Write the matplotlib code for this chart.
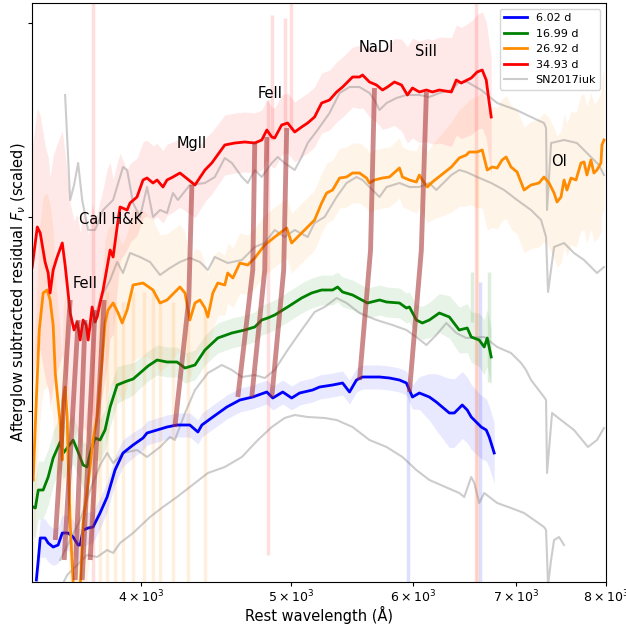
import numpy as np
import matplotlib
matplotlib.use("Agg")
import matplotlib.pyplot as plt
from matplotlib.ticker import FixedLocator, NullLocator, FixedFormatter

# ---------------- smoothed spectra (rest wavelength in Angstrom, scaled flux) -------------
wl_602 = [3422, 3432, 3442, 3467, 3483, 3509, 3535, 3557, 3588, 3615, 3642, 3653, 3669, 3697, 3724,
          3763, 3803, 3848, 3894, 3953, 4012, 4036, 4097, 4158, 4220, 4302, 4354, 4380, 4452, 4546,
          4635, 4725, 4825, 4868, 4941, 5007, 5067, 5166, 5220, 5322, 5402, 5458, 5515, 5565, 5708,
          5793, 5880, 5941, 5995, 6057, 6148, 6212, 6334, 6381, 6457, 6505, 6544, 6642, 6692, 6722, 6772]
fl_602 = [0.02, 0.22, 0.44, 0.44, 0.39, 0.35, 0.37, 0.49, 0.49, 0.45, 0.37, 0.37, 0.52, 0.54, 0.55,
          0.69, 0.85, 1.12, 1.29, 1.37, 1.44, 1.49, 1.52, 1.55, 1.57, 1.57, 1.50, 1.57, 1.65, 1.75,
          1.82, 1.85, 1.90, 1.84, 1.90, 1.84, 1.89, 1.92, 1.95, 1.97, 1.99, 1.90, 2.02, 2.05, 2.05,
          2.04, 2.02, 1.99, 1.85, 1.89, 1.85, 1.80, 1.69, 1.69, 1.77, 1.72, 1.65, 1.55, 1.52, 1.45, 1.29]

wl_1699 = [3406, 3417, 3432, 3457, 3467, 3483, 3509, 3546, 3562, 3583, 3615, 3642, 3669, 3691, 3708,
           3735, 3763, 3791, 3820, 3860, 3918, 3953, 3994, 4042, 4097, 4158, 4220, 4271, 4335, 4400,
           4485, 4580, 4669, 4739, 4789, 4832, 4882, 4977, 5082, 5158, 5236, 5322, 5362, 5402, 5483,
           5606, 5708, 5768, 5880, 5941, 5968, 6030, 6084, 6148, 6240, 6334, 6428, 6505, 6544, 6622,
           6672, 6702, 6742]
fl_1699 = [0.75, 0.74, 0.92, 0.92, 0.97, 1.05, 1.24, 1.40, 1.29, 1.34, 1.42, 1.30, 1.17, 1.15, 1.29,
           1.44, 1.42, 1.52, 1.75, 1.97, 2.01, 2.03, 2.09, 2.16, 2.22, 2.20, 2.20, 2.14, 2.17, 2.32,
           2.44, 2.49, 2.52, 2.55, 2.62, 2.64, 2.67, 2.75, 2.84, 2.89, 2.92, 2.92, 2.95, 2.90, 2.87,
           2.79, 2.82, 2.80, 2.79, 2.74, 2.75, 2.62, 2.59, 2.62, 2.69, 2.65, 2.52, 2.54, 2.45, 2.42,
           2.35, 2.44, 2.25]

wl_2692 = [3406, 3422, 3437, 3457, 3478, 3493, 3509, 3520, 3530, 3546, 3557, 3562, 3572, 3583, 3588,
           3599, 3615, 3631, 3653, 3669, 3697, 3724, 3747, 3763, 3774, 3791, 3808, 3837, 3866, 3889,
           3918, 3953, 4012, 4072, 4115, 4158, 4220, 4239, 4271, 4302, 4335, 4367, 4400, 4419, 4452,
           4485, 4532, 4552, 4587, 4635, 4690, 4739, 4810, 4882, 4970, 5007, 5082, 5181, 5236, 5275,
           5322, 5378, 5434, 5483, 5540, 5598, 5623, 5665, 5733, 5793, 5880, 5906, 5968, 6030, 6057,
           6084, 6130, 6176, 6353, 6428, 6496, 6525, 6602, 6652, 6702, 6752, 6802, 6852, 6893, 6944,
           7007, 7080, 7154, 7240, 7294, 7349, 7404, 7437, 7481, 7515, 7548, 7593, 7650, 7707, 7742,
           7776, 7822, 7857, 7893, 7940, 7952, 7976]
fl_2692 = [1.02, 1.82, 2.52, 2.89, 2.92, 2.82, 2.57, 2.09, 1.89, 1.59, 1.22, 1.82, 1.95, 1.65, 1.25,
           0.59, 0.00, -0.28, -0.08, 0.59, 0.99, 1.42, 1.65, 1.99, 2.19, 2.59, 2.72, 2.79, 2.69, 2.59,
           2.72, 2.97, 2.99, 2.92, 2.79, 2.82, 2.92, 2.95, 2.89, 2.62, 2.79, 2.82, 2.74, 2.65, 2.89,
           2.99, 2.97, 3.09, 3.04, 3.19, 3.17, 3.24, 3.37, 3.45, 3.54, 3.39, 3.49, 3.62, 3.79, 3.89,
           3.92, 4.04, 4.05, 4.09, 4.09, 4.04, 3.99, 4.02, 4.04, 4.05, 4.14, 4.05, 4.02, 4.00, 4.07,
           4.02, 3.95, 4.00, 4.15, 4.24, 4.27, 4.30, 4.30, 4.32, 4.12, 4.15, 4.14, 4.22, 4.25, 4.15,
           4.10, 3.92, 3.97, 3.99, 4.05, 3.99, 3.89, 3.80, 3.85, 4.02, 3.92, 4.04, 4.02, 4.19, 4.20,
           4.07, 4.22, 4.09, 4.12, 4.19, 4.37, 4.42]

wl_3493 = [3401, 3427, 3442, 3467, 3483, 3493, 3509, 3530, 3557, 3572, 3588, 3599, 3620, 3637, 3653,
           3669, 3686, 3697, 3719, 3735, 3747, 3763, 3780, 3803, 3820, 3837, 3860, 3877, 3918, 3935,
           3976, 4012, 4036, 4072, 4097, 4133, 4158, 4195, 4239, 4271, 4335, 4400, 4445, 4532, 4601,
           4669, 4739, 4789, 4825, 4861, 4882, 4933, 4977, 5030, 5082, 5128, 5181, 5236, 5298, 5354,
           5402, 5483, 5540, 5565, 5623, 5682, 5733, 5776, 5836, 5898, 5950, 5995, 6057, 6121, 6176,
           6240, 6353, 6400, 6447, 6544, 6602, 6652, 6692, 6722, 6742]
fl_3493 = [3.15, 3.55, 3.49, 3.20, 3.09, 2.89, 3.12, 3.25, 3.39, 3.17, 2.89, 2.69, 2.52, 2.60, 2.42,
           2.62, 2.57, 2.42, 2.75, 2.60, 2.65, 2.79, 2.92, 3.15, 3.32, 3.25, 3.55, 3.75, 3.72, 3.79,
           3.85, 4.02, 4.04, 3.99, 4.02, 3.95, 4.02, 4.05, 4.09, 4.05, 3.97, 4.12, 4.19, 4.37, 4.39,
           4.40, 4.39, 4.42, 4.52, 4.45, 4.44, 4.57, 4.59, 4.50, 4.55, 4.59, 4.65, 4.79, 4.82, 4.90,
           4.95, 5.05, 5.05, 5.07, 5.00, 4.97, 4.92, 4.95, 5.00, 4.97, 4.87, 4.94, 4.90, 4.92, 4.90,
           4.92, 4.90, 5.02, 4.99, 5.04, 5.10, 5.12, 5.02, 4.79, 4.65]

# ---------------- SN2017iuk comparison spectra (offset per epoch) ----------------
wl_iuk_a = [3572, 3599, 3620, 3642, 3664, 3697, 3735, 3780, 3837, 3894, 3918, 3953, 3994, 4036, 4072,
            4115, 4158, 4195, 4226, 4302, 4400, 4465, 4532, 4580, 4649, 4690, 4739, 4789, 4861, 4904,
            4955, 5030, 5082, 5128, 5204, 5259, 5298, 5378, 5458, 5540, 5623, 5665, 5708, 5768, 5854,
            5941, 6057, 6148, 6240, 6353, 6428, 6505, 6642, 6802, 7000, 7154, 7294, 7316, 7327, 7371,
            7515, 7661, 7822, 7916, 7976]
fl_iuk_a = [4.87, 3.82, 3.97, 4.19, 3.82, 3.52, 3.52, 3.72, 3.82, 4.15, 4.12, 3.79, 3.65, 3.95, 3.65,
            3.72, 3.69, 3.89, 3.82, 3.97, 3.99, 4.05, 4.24, 4.19, 4.05, 3.99, 4.12, 4.05, 4.19, 4.25,
            4.19, 4.12, 4.25, 4.39, 4.52, 4.62, 4.69, 4.89, 4.95, 4.95, 4.89, 4.82, 4.72, 4.79, 4.84,
            4.87, 4.87, 4.85, 4.89, 4.92, 5.00, 5.00, 4.92, 4.79, 4.72, 4.65, 4.59, 4.54, 3.72, 4.39,
            4.42, 4.39, 4.25, 4.17, 4.07]

wl_iuk_b = [3708, 3763, 3820, 3860, 3894, 3935, 3994, 4054, 4115, 4176, 4239, 4302, 4367, 4419, 4465,
            4552, 4649, 4739, 4810, 4882, 4955, 5030, 5128, 5181, 5259, 5354, 5434, 5515, 5565, 5648,
            5708, 5768, 5880, 5968, 6057, 6148, 6212, 6306, 6353, 6428, 6496, 6602, 6742, 6873, 7007,
            7154, 7262, 7316, 7338, 7404, 7515, 7627, 7742, 7893, 7976]
fl_iuk_b = [2.52, 2.82, 3.02, 3.20, 3.09, 3.29, 3.25, 3.20, 3.07, 3.14, 3.20, 3.24, 3.20, 3.12, 3.25,
            3.19, 3.22, 3.35, 3.39, 3.52, 3.45, 3.52, 3.45, 3.59, 3.65, 3.85, 3.99, 4.05, 4.02, 3.92,
            3.85, 3.95, 3.99, 3.95, 3.95, 3.99, 3.92, 4.02, 4.07, 4.12, 4.10, 4.05, 3.99, 3.92, 3.82,
            3.72, 3.62, 3.45, 2.90, 3.35, 3.39, 3.29, 3.22, 3.09, 3.15]

wl_iuk_c = [3546, 3599, 3653, 3708, 3763, 3803, 3837, 3894, 3976, 4036, 4115, 4176, 4207, 4271, 4335,
            4419, 4512, 4580, 4649, 4739, 4810, 4882, 4977, 5082, 5181, 5259, 5354, 5434, 5540, 5682,
            5819, 5941, 6030, 6121, 6212, 6306, 6400, 6496, 6672, 6802, 6944, 7049, 7101, 7154, 7294,
            7316, 7327, 7382, 7481, 7627, 7788, 7893, 7976]
fl_iuk_c = [0.22, 0.42, 0.62, 0.92, 1.17, 1.29, 1.19, 1.29, 1.32, 1.25, 1.35, 1.45, 1.42, 1.69, 1.92,
            2.09, 2.17, 2.12, 2.05, 2.07, 2.04, 2.12, 2.32, 2.52, 2.70, 2.75, 2.84, 2.79, 2.69, 2.62,
            2.57, 2.52, 2.45, 2.37, 2.47, 2.59, 2.49, 2.44, 2.45, 2.35, 2.29, 2.19, 2.12, 2.02, 1.85,
            1.82, 1.09, 1.69, 1.62, 1.52, 1.35, 1.42, 1.54]

wl_iuk_d = [3557, 3583, 3637, 3691, 3747, 3803, 3837, 3877, 3953, 4054, 4133, 4220, 4302, 4419, 4532,
            4649, 4761, 4861, 4955, 5030, 5128, 5259, 5354, 5483, 5623, 5768, 5906, 6030, 6148, 6297,
            6428, 6476, 6544, 6574, 6622, 6672, 6802, 6944, 7080, 7294, 7316, 7338, 7371, 7404, 7459,
            7515]
fl_iuk_d = [-0.03, 0.07, 0.17, 0.27, 0.25, 0.32, 0.29, 0.39, 0.49, 0.65, 0.75, 0.85, 0.95, 1.09, 1.15,
            1.25, 1.42, 1.55, 1.64, 1.67, 1.65, 1.64, 1.62, 1.55, 1.42, 1.35, 1.25, 1.12, 1.02, 0.95,
            0.89, 0.85, 1.05, 0.99, 0.79, 0.89, 0.79, 0.74, 0.69, 0.55, 0.52, -0.03, 0.22, 0.42, 0.45,
            0.37]

# ---------------- raw-spectrum scatter (half width of faint noisy band) ----------------
noise_wl_3493 = [3400, 3800, 3900, 4500, 5500, 6000, 6800]
noise_hw_3493 = [1.2, 1.0, 0.4, 0.3, 0.3, 0.5, 0.6]
noise_wl_2692 = [3400, 4300, 4500, 6000, 6700, 8000]
noise_hw_2692 = [1.0, 0.6, 0.3, 0.3, 0.6, 0.7]
noise_wl_1699 = [3400, 4000, 6000, 6800]
noise_hw_1699 = [0.3, 0.15, 0.15, 0.3]
noise_wl_602 = [3400, 4000, 6000, 6300, 6800]
noise_hw_602 = [0.2, 0.12, 0.12, 0.35, 0.3]

# strong residual spikes in the raw spectra: wavelength, low, high
spike_wl_3493 = [3724, 4832, 5000, 4861, 4955, 6592]
spike_lo_3493 = [-0.1, 0.27, 4.52, 4.42, 4.52, -0.1]
spike_hi_3493 = [6.0, 4.82, 6.0, 5.67, 5.64, 6.0]
spike_wl_2692 = [3763, 3803, 3848, 3894, 3953, 4018, 4072, 4115, 4195, 4290, 4400, 6600]
spike_lo_2692 = [-0.1] * 12
spike_hi_2692 = [2.9, 2.9, 2.8, 2.8, 2.9, 2.9, 2.9, 2.8, 2.8, 2.7, 2.7, 4.3]
spike_wl_1699 = [6722, 6554]
spike_lo_1699 = [2.0, 2.6]
spike_hi_1699 = [3.1, 3.1]
spike_wl_602 = [5959, 6632]
spike_lo_602 = [-0.1, -0.1]
spike_hi_602 = [2.0, 3.0]

# ---------------- velocity tracks of absorption features (blue -> red epoch) ----------------
tracks = {
    "NaDI": ([5665, 5632, 5540], [4.94, 3.32, 2.02]),
    "SiII": ([6121, 6075, 5968], [4.90, 3.32, 1.90]),
    "FeIIa": ([4739, 4725, 4621], [4.39, 3.12, 1.85]),
    "FeIIb": ([4825, 4810, 4718], [4.45, 3.12, 1.85]),
    "FeIIc": ([4970, 4948, 4861], [4.54, 3.12, 1.85]),
    "MgII": ([4315, 4295, 4207], [3.97, 2.82, 1.55]),
    "L1": ([3599, 3520], [2.82, 0.42]),
    "L2": ([3642, 3567], [2.62, 0.22]),
    "L3": ([3680, 3626], [2.62, 0.02]),
    "L4": ([3735, 3664], [2.72, 0.02]),
    "L5": ([3786, 3708], [2.82, 0.22]),
}

# ---------------- line identifications ----------------
line_names = ["NaDI", "SiII", "FeII", "MgII", "CaII H&K", "FeII", "OI"]
line_wl = [5682, 6121, 4846, 4315, 3826, 3680, 7459]
line_fl = [5.35, 5.31, 4.89, 4.39, 3.63, 2.98, 4.21]

epochs = ["6.02 d", "16.99 d", "26.92 d", "34.93 d"]
colors = ["blue", "green", "darkorange", "red"]
wls = [wl_602, wl_1699, wl_2692, wl_3493]
fls = [fl_602, fl_1699, fl_2692, fl_3493]
noise_wls = [noise_wl_602, noise_wl_1699, noise_wl_2692, noise_wl_3493]
noise_hws = [noise_hw_602, noise_hw_1699, noise_hw_2692, noise_hw_3493]
spike_wls = [spike_wl_602, spike_wl_1699, spike_wl_2692, spike_wl_3493]
spike_los = [spike_lo_602, spike_lo_1699, spike_lo_2692, spike_lo_3493]
spike_his = [spike_hi_602, spike_hi_1699, spike_hi_2692, spike_hi_3493]

fig = plt.figure(figsize=(6.26, 6.31), dpi=100)
ax = fig.add_axes([32 / 626, 1 - 582 / 631, 574 / 626, 579 / 631])

# faint raw spectra
for wl, fl, nw, nh, sw, slo, shi, c in zip(wls, fls, noise_wls, noise_hws,
                                             spike_wls, spike_los, spike_his, colors):
    wl = np.array(wl, float)
    fl = np.array(fl, float)
    hw = np.interp(wl, nw, nh)
    ax.fill_between(wl, fl - hw, fl + hw, color=c, alpha=0.09, lw=0)
    ax.vlines(sw, slo, shi, color=c, alpha=0.13, lw=2.5)

# comparison spectra
for wl, fl in [(wl_iuk_a, fl_iuk_a), (wl_iuk_b, fl_iuk_b), (wl_iuk_c, fl_iuk_c), (wl_iuk_d, fl_iuk_d)]:
    ax.plot(wl, fl, color="gray", alpha=0.4, lw=1.5)

# smoothed spectra
handles = []
for wl, fl, c, lab in zip(wls, fls, colors, epochs):
    h, = ax.plot(wl, fl, color=c, lw=2, label=lab)
    handles.append(h)
h_iuk, = ax.plot([], [], color="gray", alpha=0.4, lw=1.5, label="SN2017iuk")
handles.append(h_iuk)

# velocity tracks
for name, (twl, tfl) in tracks.items():
    ax.plot(twl, tfl, color="brown", alpha=0.55, lw=3.5, solid_capstyle="butt")

for name, lw_, lf in zip(line_names, line_wl, line_fl):
    ax.text(lw_, lf, name, ha="center", va="center", fontsize=10.5)

ax.set_xscale("log")
ax.set_xlim(3400, 8000)
ax.set_ylim(0, 5.79)
ax.xaxis.set_major_locator(FixedLocator([4000, 5000, 6000, 7000, 8000]))
ax.xaxis.set_major_formatter(FixedFormatter([r"$4\times10^{3}$", r"$5\times10^{3}$", r"$6\times10^{3}$",
                                             r"$7\times10^{3}$", r"$8\times10^{3}$"]))
ax.xaxis.set_minor_locator(NullLocator())
ax.set_yticks([1.71, 3.65, 5.59])
ax.set_yticklabels([])
ax.yaxis.set_minor_locator(NullLocator())
ax.tick_params(axis="x", length=3, pad=1.5, labelsize=9)
ax.tick_params(axis="y", length=3, pad=1)

ax.set_xlabel("Rest wavelength (Å)", fontsize=10.5, labelpad=1)
ax.set_ylabel(r"Afterglow subtracted residual $F_\nu$ (scaled)", fontsize=10.5, labelpad=-1)
ax.legend(handles=handles, loc="upper right", fontsize=8)

fig.savefig("out.png", dpi=100)
